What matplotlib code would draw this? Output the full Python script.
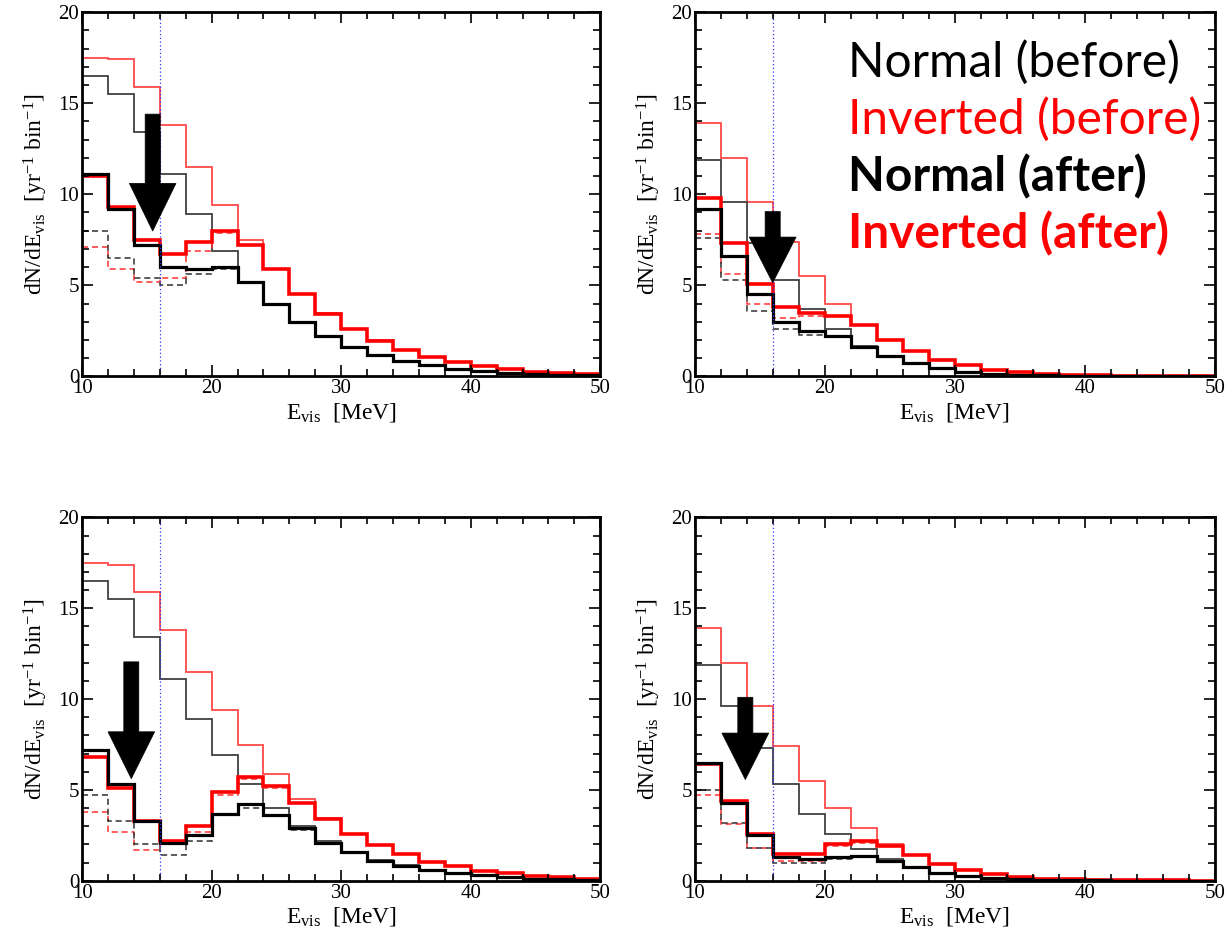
import numpy as np
import matplotlib
matplotlib.use("Agg")
import matplotlib.pyplot as plt
from matplotlib.patches import Polygon

plt.rcParams["font.family"] = ["Liberation Serif", "DejaVu Serif"]
plt.rcParams["mathtext.fontset"] = "custom"
plt.rcParams["mathtext.rm"] = "Liberation Serif"
plt.rcParams["mathtext.it"] = "Liberation Serif:italic"

# Energy bins [MeV]
bin_edges = np.arange(10, 52, 2)

# ---- top-left panel ----
tl_inv_before = [17.5, 17.4, 15.9, 13.8, 11.5, 9.4, 7.5, 5.9, 4.5, 3.5, 2.6, 2.0, 1.45, 1.05, 0.8, 0.55, 0.4, 0.25, 0.18, 0.12]
tl_nor_before = [16.5, 15.5, 13.4, 11.1, 8.9, 6.9, 5.2, 4.0, 3.0, 2.2, 1.6, 1.15, 0.85, 0.6, 0.4, 0.3, 0.2, 0.12, 0.08, 0.05]
tl_nor_after = [11.1, 9.2, 7.2, 6.0, 5.9, 6.0, 5.2, 4.0, 3.0, 2.2, 1.6, 1.15, 0.85, 0.6, 0.4, 0.3, 0.2, 0.12, 0.08, 0.05]
tl_inv_after = [11.0, 9.3, 7.5, 6.7, 7.4, 8.0, 7.2, 5.9, 4.5, 3.45, 2.6, 1.95, 1.45, 1.05, 0.8, 0.55, 0.4, 0.25, 0.18, 0.12]
tl_nor_dash = [8.0, 6.5, 5.4, 5.0, 5.6, 5.9, 5.2, 4.0, 3.0, 2.2, 1.6, 1.15, 0.85, 0.6, 0.4, 0.3, 0.2, 0.12, 0.08, 0.05]
tl_inv_dash = [7.1, 5.9, 5.2, 5.4, 6.9, 7.9, 7.2, 5.9, 4.5, 3.45, 2.6, 1.95, 1.45, 1.05, 0.8, 0.55, 0.4, 0.25, 0.18, 0.12]

# ---- top-right panel ----
tr_inv_before = [13.9, 12.0, 9.6, 7.4, 5.5, 4.0, 2.8, 2.0, 1.4, 0.9, 0.6, 0.35, 0.22, 0.12, 0.08, 0.05, 0.04, 0.03, 0.02, 0.01]
tr_nor_before = [11.9, 9.6, 7.3, 5.3, 3.7, 2.6, 1.65, 1.1, 0.75, 0.45, 0.25, 0.15, 0.08, 0.05, 0.03, 0.02, 0.01, 0.01, 0.0, 0.0]
tr_nor_after = [9.2, 6.6, 4.5, 3.0, 2.5, 2.2, 1.6, 1.1, 0.75, 0.45, 0.25, 0.15, 0.08, 0.05, 0.03, 0.02, 0.01, 0.01, 0.0, 0.0]
tr_inv_after = [9.8, 7.3, 5.1, 3.8, 3.5, 3.3, 2.8, 2.0, 1.4, 0.9, 0.6, 0.35, 0.22, 0.12, 0.08, 0.05, 0.04, 0.03, 0.02, 0.01]
tr_nor_dash = [7.6, 5.3, 3.6, 2.6, 2.3, 2.2, 1.6, 1.1, 0.75, 0.45, 0.25, 0.15, 0.08, 0.05, 0.03, 0.02, 0.01, 0.01, 0.0, 0.0]
tr_inv_dash = [7.8, 5.6, 4.0, 3.2, 3.3, 3.3, 2.8, 2.0, 1.4, 0.9, 0.6, 0.35, 0.22, 0.12, 0.08, 0.05, 0.04, 0.03, 0.02, 0.01]

# ---- bottom-left panel ----
bl_inv_before = [17.5, 17.4, 15.9, 13.8, 11.5, 9.4, 7.5, 5.9, 4.5, 3.45, 2.6, 1.95, 1.45, 1.05, 0.8, 0.55, 0.4, 0.25, 0.18, 0.12]
bl_nor_before = [16.5, 15.5, 13.4, 11.1, 8.9, 6.9, 5.3, 4.0, 3.0, 2.2, 1.6, 1.15, 0.85, 0.6, 0.4, 0.3, 0.2, 0.12, 0.08, 0.05]
bl_nor_after = [7.2, 5.3, 3.3, 2.1, 2.5, 3.7, 4.2, 3.6, 2.9, 2.1, 1.6, 1.1, 0.8, 0.6, 0.4, 0.3, 0.2, 0.12, 0.08, 0.05]
bl_inv_after = [6.8, 5.1, 3.3, 2.2, 3.0, 4.9, 5.7, 5.2, 4.3, 3.4, 2.6, 1.95, 1.45, 1.05, 0.8, 0.55, 0.4, 0.25, 0.18, 0.12]
bl_nor_dash = [4.7, 3.3, 2.0, 1.4, 2.2, 3.6, 4.0, 3.6, 2.8, 2.1, 1.6, 1.1, 0.8, 0.6, 0.4, 0.3, 0.2, 0.12, 0.08, 0.05]
bl_inv_dash = [3.8, 2.7, 1.7, 2.0, 2.7, 4.7, 5.6, 5.1, 4.3, 3.4, 2.6, 1.95, 1.45, 1.05, 0.8, 0.55, 0.4, 0.25, 0.18, 0.12]

# ---- bottom-right panel ----
br_inv_before = [13.9, 12.0, 9.6, 7.4, 5.5, 4.0, 2.9, 2.0, 1.4, 0.9, 0.6, 0.35, 0.22, 0.12, 0.08, 0.05, 0.04, 0.03, 0.02, 0.01]
br_nor_before = [11.9, 9.6, 7.3, 5.3, 3.7, 2.6, 1.75, 1.2, 0.75, 0.45, 0.25, 0.15, 0.08, 0.05, 0.03, 0.02, 0.01, 0.01, 0.0, 0.0]
br_nor_after = [6.5, 4.3, 2.5, 1.3, 1.2, 1.3, 1.35, 1.1, 0.75, 0.45, 0.25, 0.15, 0.08, 0.05, 0.03, 0.02, 0.01, 0.01, 0.0, 0.0]
br_inv_after = [6.4, 4.4, 2.6, 1.5, 1.45, 2.0, 2.2, 1.9, 1.4, 0.9, 0.6, 0.35, 0.22, 0.12, 0.08, 0.05, 0.04, 0.03, 0.02, 0.01]
br_nor_dash = [5.0, 3.2, 1.8, 1.0, 1.0, 1.2, 1.35, 1.1, 0.75, 0.45, 0.25, 0.15, 0.08, 0.05, 0.03, 0.02, 0.01, 0.01, 0.0, 0.0]
br_inv_dash = [4.7, 3.1, 1.8, 1.1, 1.1, 1.9, 2.1, 1.9, 1.4, 0.9, 0.6, 0.35, 0.22, 0.12, 0.08, 0.05, 0.04, 0.03, 0.02, 0.01]

threshold = 16.0

legend_labels = ["Normal (before)", "Inverted (before)", "Normal (after)", "Inverted (after)"]

panels = [
    dict(rect=[0.067, 0.597, 0.423, 0.390],
         series=(tl_inv_before, tl_nor_before, tl_inv_dash, tl_nor_dash, tl_inv_after, tl_nor_after),
         arrow=(15.45, 14.4, 10.6, 7.98)),
    dict(rect=[0.567, 0.597, 0.425, 0.390],
         series=(tr_inv_before, tr_nor_before, tr_inv_dash, tr_nor_dash, tr_inv_after, tr_nor_after),
         arrow=(16.0, 9.05, 7.65, 5.14)),
    dict(rect=[0.067, 0.057, 0.423, 0.389],
         series=(bl_inv_before, bl_nor_before, bl_inv_dash, bl_nor_dash, bl_inv_after, bl_nor_after),
         arrow=(13.8, 12.05, 8.2, 5.62)),
    dict(rect=[0.567, 0.057, 0.425, 0.389],
         series=(br_inv_before, br_nor_before, br_inv_dash, br_nor_dash, br_inv_after, br_nor_after),
         arrow=(13.9, 10.1, 8.13, 5.57)),
]

styles = [
    dict(color="#ff4a4a", lw=1.3, ls="-"),    # inverted, before
    dict(color="#404040", lw=1.3, ls="-"),    # normal, before
    dict(color="#ff3030", lw=1.1, ls=(0, (4, 2.5))),  # inverted, dashed
    dict(color="#303030", lw=1.1, ls=(0, (4, 2.5))),  # normal, dashed
    dict(color="#ff0000", lw=2.6, ls="-"),    # inverted, after
    dict(color="#000000", lw=2.3, ls="-"),    # normal, after
]

fig = plt.figure(figsize=(12.25, 9.34), dpi=100)

for p in panels:
    ax = fig.add_axes(p["rect"])
    for vals, st in zip(p["series"], styles):
        ax.stairs(vals, bin_edges, baseline=None, color=st["color"],
                  linewidth=st["lw"], linestyle=st["ls"])
    ax.axvline(threshold, color="#3030ff", lw=0.9, ls=(0, (1, 2)), zorder=1)

    # downward arrow
    xc, y_top, y_head, y_tip = p["arrow"]
    sw, hw = 0.58, 1.8
    verts = [(xc - sw, y_top), (xc + sw, y_top), (xc + sw, y_head),
             (xc + hw, y_head), (xc, y_tip), (xc - hw, y_head), (xc - sw, y_head)]
    ax.add_patch(Polygon(verts, closed=True, facecolor="black", edgecolor="black", lw=0.5, zorder=5))

    ax.set_xlim(10, 50)
    ax.set_ylim(0, 20)
    ax.set_xticks([10, 20, 30, 40, 50])
    ax.set_xticks(np.arange(10, 51, 2), minor=True)
    ax.set_yticks([0, 5, 10, 15, 20])
    ax.set_yticks(np.arange(0, 21, 1), minor=True)
    ax.tick_params(which="both", direction="in", top=True, right=True, width=1.2,
                   labelsize=15, pad=2)
    ax.tick_params(which="major", length=8)
    ax.tick_params(which="minor", length=5)
    for s in ax.spines.values():
        s.set_linewidth(2.0)
    ax.set_xlabel(r"E$_{\rm vis}$  [MeV]", fontsize=17, labelpad=2)
    ax.set_ylabel(r"dN/dE$_{\rm vis}$  [yr$^{-1}$ bin$^{-1}$]", fontsize=17, labelpad=6)

# legend text block
leg_colors = ["black", "red", "black", "red"]
leg_weights = ["normal", "normal", "bold", "bold"]
leg_y = [77, 134, 191, 248]
for lab, c, w, yb in zip(legend_labels, leg_colors, leg_weights, leg_y):
    fig.text(848 / 1225, 1 - yb / 934, lab, color=c, fontweight=w, fontsize=34.5,
             family=["Lato", "DejaVu Sans"], ha="left", va="baseline")

fig.savefig("out.png", dpi=100)
